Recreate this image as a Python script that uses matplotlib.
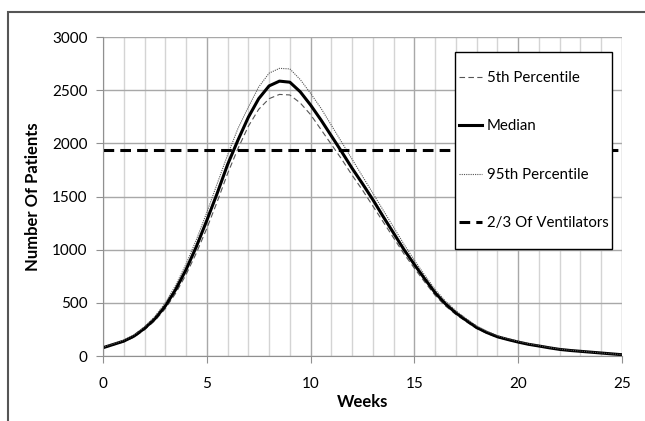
import matplotlib
matplotlib.use("Agg")
import matplotlib.pyplot as plt
import numpy as np
from matplotlib.patches import Rectangle
from matplotlib.ticker import MultipleLocator

weeks = np.arange(0, 25.5, 0.5)
median = [78, 109, 140, 188, 260, 350, 470, 625, 812, 1030, 1275, 1530, 1800, 2030,
          2245, 2420, 2540, 2585, 2575, 2485, 2360, 2220, 2070, 1920, 1765, 1620,
          1470, 1310, 1155, 1000, 860, 725, 595, 490, 405, 335, 268, 220, 181, 155,
          131, 110, 94, 77, 62, 52, 44, 36, 28, 20, 12]
p95 = [82, 114, 148, 198, 275, 372, 500, 665, 865, 1095, 1350, 1620, 1890, 2140,
       2340, 2530, 2660, 2705, 2700, 2600, 2470, 2330, 2170, 2010, 1850, 1690,
       1530, 1370, 1210, 1050, 900, 760, 625, 515, 425, 350, 282, 232, 190, 162,
       137, 115, 98, 80, 65, 54, 46, 37, 29, 21, 13]
p5 = [74, 104, 133, 178, 247, 332, 445, 590, 765, 970, 1200, 1450, 1715, 1950,
      2160, 2320, 2420, 2460, 2455, 2380, 2270, 2130, 1990, 1850, 1700, 1560,
      1410, 1260, 1110, 960, 825, 695, 570, 470, 390, 322, 258, 212, 175, 150,
      127, 107, 91, 75, 60, 50, 42, 35, 27, 19, 11]
ventilators = 1940
labels = ["5th Percentile", "Median", "95th Percentile", "2/3 Of Ventilators"]

plt.rcParams['font.family'] = ['Lato', 'DejaVu Sans']

fig = plt.figure(figsize=(6.45, 4.21), dpi=100)
fig.patches.append(Rectangle((8/645, -0.1), 1.2, 1 - 12/421 + 0.1,
                             transform=fig.transFigure, fill=False,
                             edgecolor='#555555', linewidth=1.5))
ax = fig.add_axes([103/645, 1 - 356/421, (622 - 103)/645, (356 - 37)/421])

ax.plot(weeks, p5, color='#555555', lw=0.8, ls=(0, (5, 3)), label=labels[0])
ax.plot(weeks, median, color='black', lw=2.2, label=labels[1])
ax.plot(weeks, p95, color='#555555', lw=0.8, ls=(0, (1, 1)), label=labels[2])
ax.axhline(ventilators, color='black', lw=2.2, ls=(0, (3.5, 2)), label=labels[3])

ax.set_xlim(0, 25)
ax.set_ylim(0, 3000)
ax.xaxis.set_major_locator(MultipleLocator(5))
ax.xaxis.set_minor_locator(MultipleLocator(1))
ax.yaxis.set_major_locator(MultipleLocator(500))
ax.grid(which='major', color='#a8a8a8', lw=1.0)
ax.grid(which='minor', axis='x', color='#d4d4d4', lw=1.0)
ax.set_axisbelow(True)
for s in ['top', 'right']:
    ax.spines[s].set_visible(False)
for s in ['left', 'bottom']:
    ax.spines[s].set_color('#909090')
ax.tick_params(which='major', length=5, color='#909090', labelsize=11, pad=10)
ax.tick_params(axis='y', pad=6)
ax.tick_params(which='minor', length=0)

ax.set_xlabel('Weeks', fontsize=12, fontweight='bold', labelpad=2)
ax.set_ylabel('Number Of Patients', fontsize=12, fontweight='bold', labelpad=8)

# legend box
x0, x1, y0, y1 = 455/645, 612/645, 1 - 249/421, 1 - 52/421
ax.add_patch(Rectangle((x0, y0), x1 - x0, y1 - y0, transform=fig.transFigure,
                       facecolor='white', edgecolor='black', lw=1.0,
                       zorder=4, clip_on=False))
leg = ax.legend(loc='center left', bbox_to_anchor=(x0 + 1/645, (y0 + y1) / 2),
                bbox_transform=fig.transFigure, frameon=False,
                fontsize=10.8, labelspacing=2.3, handlelength=1.55,
                handletextpad=0.3, borderpad=0.2, borderaxespad=0)

fig.savefig('out.png', dpi=100, facecolor='white')
